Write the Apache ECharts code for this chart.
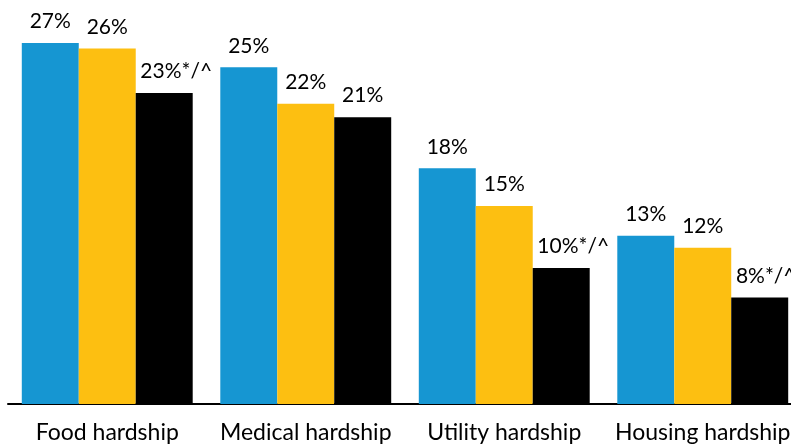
<!DOCTYPE html>
<html>
<head>
<meta charset="utf-8">
<script src="https://cdn.jsdelivr.net/npm/echarts@6/dist/echarts.min.js"></script>
<style>
  html, body { margin: 0; padding: 0; background: #fff; }
  #chart { width: 791px; height: 448px; }
</style>
</head>
<body>
<div id="chart"></div>
<script>
// ---- Data ----
const categories = ['Food hardship', 'Medical hardship', 'Utility hardship', 'Housing hardship'];
const seriesNames = ['Group A', 'Group B', 'Group C'];
const valuesA = [26.8, 25.0, 17.5, 12.5];
const valuesB = [26.4, 22.3, 14.7, 11.6];
const valuesC = [23.1, 21.3, 10.1, 7.9];
const labelsA = ['27%', '25%', '18%', '13%'];
const labelsB = ['26%', '22%', '15%', '12%'];
const labelsC = ['23%', '21%', '10%', '8%'];
const suffixC = ['*/^', '', '*/^', '*/^'];

const colors = ['#1696d2', '#fdbf11', '#000000'];
const font = 'Lato, "Noto Sans", sans-serif';

function buildData(values, labels, suffixes) {
  return values.map((v, i) => {
    const suf = suffixes ? suffixes[i] : '';
    const item = { value: v, label: { formatter: labels[i] + suf } };
    if (suf) {
      // keep the number centred over the bar, suffix hangs to the right
      item.label.offset = [i === values.length - 1 ? 6 : 12, 0];
    }
    return item;
  });
}

const allValues = [valuesA, valuesB, valuesC];
const allLabels = [labelsA, labelsB, labelsC];

const chart = echarts.init(document.getElementById('chart'), null, { renderer: 'canvas' });
chart.setOption({
  animation: false,
  grid: { left: 8, top: 0, width: 794, height: 404, containLabel: false, outerBoundsMode: 'none' },
  xAxis: {
    type: 'category',
    data: categories,
    axisLine: { show: true, lineStyle: { color: '#000', width: 2 } },
    axisTick: { show: false },
    axisLabel: { color: '#000', fontFamily: font, fontSize: 23, margin: 17, interval: 0 }
  },
  yAxis: {
    type: 'value',
    min: 0,
    max: 30,
    show: false,
    splitLine: { show: false }
  },
  series: seriesNames.map((name, s) => ({
    name: name,
    type: 'bar',
    barGap: '0%',
    barCategoryGap: '13.9%',
    itemStyle: { color: colors[s] },
    label: {
      show: true,
      position: 'top',
      distance: 11,
      color: '#000',
      fontFamily: font,
      fontSize: 21
    },
    data: buildData(allValues[s], allLabels[s], s === 2 ? suffixC : null)
  }))
});
</script>
</body>
</html>
